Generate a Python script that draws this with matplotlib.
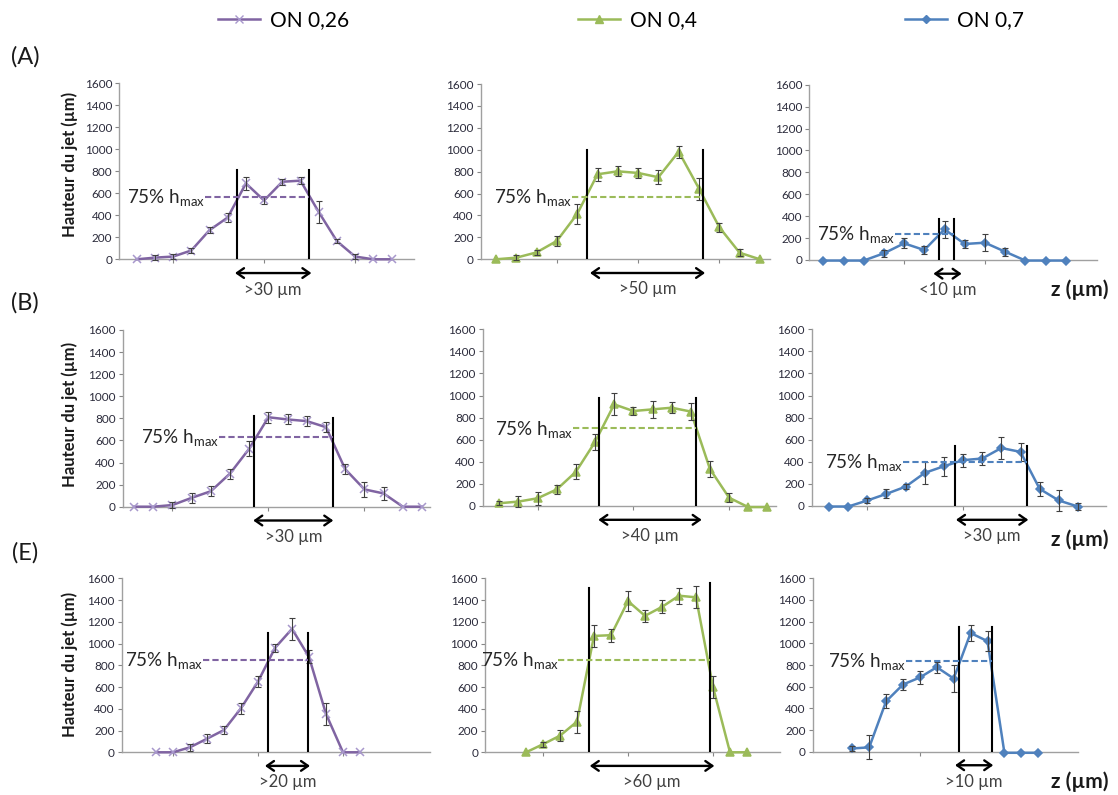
import numpy as np
import matplotlib
matplotlib.use("Agg")
import matplotlib.pyplot as plt
from matplotlib.lines import Line2D

plt.rcParams['font.family'] = ['Lato', 'DejaVu Sans']
plt.rcParams['mathtext.default'] = 'regular'

# jet heights (µm) and error bars
A_026 = [0, 15, 25, 80, 265, 380, 690, 535, 705, 715, 430, 165, 25, 0, 0]
A_026_err = [0, 25, 20, 25, 30, 40, 60, 35, 25, 30, 100, 20, 20, 0, 0]
A_04 = [0, 15, 63, 168, 414, 776, 803, 788, 749, 983, 645, 293, 60, 0]
A_04_err = [0, 25, 25, 45, 95, 60, 45, 45, 65, 55, 100, 40, 30, 0]
A_07 = [-5, -5, -5, 61, 152, 91, 280, 146, 158, 76, -5, -5, -5]
A_07_err = [0, 0, 0, 30, 45, 35, 75, 40, 75, 35, 0, 0, 0]

B_026 = [0, 0, 15, 80, 140, 300, 525, 810, 790, 775, 720, 340, 157, 120, 0, 0]
B_026_err = [0, 0, 25, 45, 45, 45, 70, 50, 45, 45, 45, 45, 65, 55, 0, 0]
B_04 = [25, 40, 70, 150, 310, 580, 920, 860, 875, 890, 855, 335, 75, -10, -10]
B_04_err = [20, 50, 60, 40, 70, 70, 100, 40, 80, 50, 80, 70, 40, 0, 0]
B_07 = [-5, -5, 50, 110, 175, 300, 360, 415, 430, 525, 490, 155, 50, -5]
B_07_err = [0, 0, 20, 40, 25, 100, 85, 60, 55, 100, 80, 65, 95, 30]

E_026 = [0, 0, 46, 125, 205, 405, 650, 960, 1135, 877, 353, 0, 0]
E_026_err = [0, 0, 30, 40, 40, 50, 50, 40, 100, 60, 100, 0, 0]
E_04 = [0, 74, 153, 282, 1070, 1077, 1390, 1255, 1337, 1440, 1425, 600, 0, 0]
E_04_err = [0, 25, 50, 100, 100, 60, 90, 55, 60, 75, 100, 100, 0, 0]
E_07 = [30, 40, 465, 620, 685, 780, 675, 1095, 1020, -10, -10, -10]
E_07_err = [25, 110, 65, 55, 60, 50, 125, 75, 95, 0, 0, 0]

# 75% hmax zone per panel: line positions (point index), line tops, level, width label
zones = {
    'A1': dict(lines=(5.51, 9.47), tops=(810, 810), level=565, label='>30 µm'),
    'A2': dict(lines=(4.48, 10.2), tops=(1000, 1000), level=570, label='>50 µm'),
    'A3': dict(lines=(5.74, 6.49), tops=(370, 370), level=237, label='<10 µm'),
    'B1': dict(lines=(6.25, 10.36), tops=(822, 800), level=628, label='>30 µm'),
    'B2': dict(lines=(5.21, 10.26), tops=(975, 975), level=702, label='>40 µm'),
    'B3': dict(lines=(6.58, 10.32), tops=(540, 540), level=400, label='>30 µm'),
    'E1': dict(lines=(6.57, 8.96), tops=(1095, 1095), level=853, label='>20 µm'),
    'E2': dict(lines=(3.73, 10.83), tops=(1512, 1560), level=853, label='>60 µm'),
    'E3': dict(lines=(6.31, 8.25), tops=(1148, 1148), level=840, label='>10 µm'),
}

series = {
    '0,26': dict(color='#8064A2', mcolor='#A898CC', marker='x', ms=6),
    '0,4': dict(color='#9BBB59', mcolor='#9BBB59', marker='^', ms=6),
    '0,7': dict(color='#4F81BD', mcolor='#4F81BD', marker='D', ms=4),
}

W, H = 1118, 795
fig = plt.figure(figsize=(W / 100, H / 100), dpi=100)

# layout in pixels: left, right, top(1600), bottom(0), first point, spacing,
# dash start, arrow ends, x ticks
panels = [
    ('A1', A_026, A_026_err, '0,26', 119.3, 414, 83.3, 259.3, 136.7, 18.2, 3.75, (5.4, 9.6), [2, 7, 12]),
    ('A2', A_04, A_04_err, '0,4', 480.7, 770, 84, 259.3, 496, 20.3, 3.73, (4.63, 10.3), [3, 7, 11]),
    ('A3', A_07, A_07_err, '0,7', 809.3, 1097, 84.7, 260, 823.3, 20.2, 3.55, (5.45, 6.85), [4, 8]),
    ('B1', B_026, B_026_err, '0,26', 122.7, 430, 330, 506.7, 134, 19.2, 4.44, (6.21, 10.38), [2, 7, 12]),
    ('B2', B_04, B_04_err, '0,4', 482.7, 776, 329.3, 506, 499.3, 19.15, 3.86, (5.17, 10.57), [2, 7, 12]),
    ('B3', B_07, B_07_err, '0,7', 811.7, 1106, 329.3, 506, 829, 19.15, 3.88, (6.63, 10.41), [2, 7, 12]),
    ('E1', E_026, E_026_err, '0,26', 121.7, 430, 578.3, 752.3, 156, 17.0, 2.78, (6.41, 9.06), [1, 6, 11]),
    ('E2', E_04, E_04_err, '0,4', 485, 780, 578.3, 752.3, 526, 17.0, 1.91, (3.75, 11.08), [1, 6, 11]),
    ('E3', E_07, E_07_err, '0,7', 812.7, 1078, 578.3, 751.7, 852.3, 16.9, 3.18, (6.08, 8.34), [4, 9]),
]

for name, h, err, key, L, R, top, bot, p0, s, dash0, arr, xt in panels:
    st = series[key]
    ax = fig.add_axes([L / W, 1 - bot / H, (R - L) / W, (bot - top) / H])
    x = np.arange(len(h))
    h = np.array(h, dtype=float)
    err = np.array(err, dtype=float)
    ax.plot(x, h, color=st['color'], lw=1.8, marker=st['marker'], ms=st['ms'],
            mec=st['mcolor'], mfc=st['mcolor'], mew=1.1, clip_on=False, zorder=3)
    m = err > 0
    ax.errorbar(x[m], h[m], yerr=err[m], fmt='none', ecolor='#404040',
                elinewidth=0.8, capsize=2.2, capthick=0.8, zorder=4, clip_on=False)
    ax.set_xlim((L - p0) / s, (R - p0) / s)
    ax.set_ylim(0, 1600)
    ax.set_yticks(np.arange(0, 1601, 200))
    ax.set_xticks(xt)
    ax.set_xticklabels([])
    ax.tick_params(axis='y', labelsize=8.5, length=3, width=0.8, color='#868686',
                   labelcolor='#2b2b3b', pad=2)
    ax.tick_params(axis='x', length=3, width=0.8, color='#868686')
    for sp in ['top', 'right']:
        ax.spines[sp].set_visible(False)
    for sp in ['left', 'bottom']:
        ax.spines[sp].set_color('#A0A0A0')
        ax.spines[sp].set_linewidth(1.0)
    ax.patch.set_alpha(0)

    z = zones[name]
    for xv, tp in zip(z['lines'], z['tops']):
        ax.plot([xv, xv], [0, tp], color='black', lw=1.5, zorder=5)
    ax.plot([dash0, z['lines'][1]], [z['level'], z['level']], color=st['color'],
            lw=1.5, ls=(0, (3, 1.5)), zorder=5)
    ax.text(dash0, z['level'] - 55, r'75% h$_{\mathregular{max}}$', ha='right', va='baseline',
            fontsize=13.5, color='#262626')
    ax.annotate('', xy=(arr[1], -125), xytext=(arr[0], -125),
                arrowprops=dict(arrowstyle='<->,head_length=0.5,head_width=0.35',
                                lw=1.7, color='black', shrinkA=0, shrinkB=0),
                annotation_clip=False)
    ax.text((arr[0] + arr[1]) / 2, -275, z['label'], ha='center', va='center',
            fontsize=12, color='#404040', clip_on=False)

# row labels, y labels, z labels
for lab, yc in [('(A)', 57), ('(B)', 303), ('(E)', 553)]:
    fig.text(25 / W, 1 - yc / H, lab, ha='center', va='center', fontsize=17, color='#1a1a1a')
for yc in [164, 414, 664]:
    fig.text(70 / W, 1 - yc / H, 'Hauteur du jet (µm)', rotation=90, ha='center', va='center',
             fontsize=12, fontweight='bold', color='#1a1a1a')
for yc in [290, 540, 782]:
    fig.text(1080 / W, 1 - yc / H, 'z (µm)', ha='center', va='center', fontsize=15,
             fontweight='bold', color='#1a1a1a')

# legend entries across the top
for key, xl in [('0,26', 218), ('0,4', 578), ('0,7', 905)]:
    st = series[key]
    hnd = Line2D([], [], color=st['color'], lw=1.8, marker=st['marker'], ms=st['ms'],
                 mec=st['mcolor'], mfc=st['mcolor'])
    fig.legend(handles=[hnd], labels=['ON ' + key], loc='center left',
               bbox_to_anchor=(xl / W, 1 - 20 / H), frameon=False, fontsize=15,
               handlelength=2.0, handletextpad=0.5, borderpad=0, borderaxespad=0)

fig.savefig('out.png', dpi=100, facecolor='white')
